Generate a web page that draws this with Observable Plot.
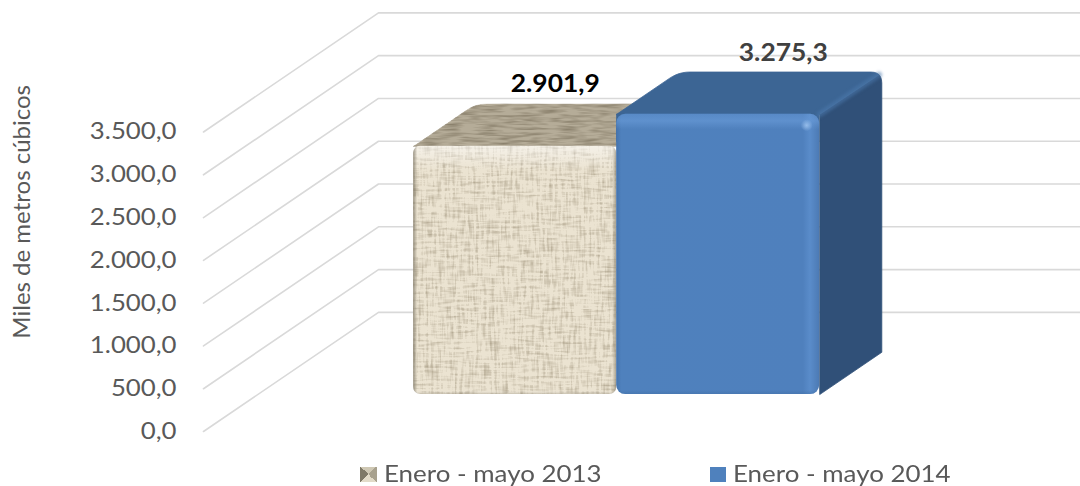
<!DOCTYPE html>
<html>
<head>
<meta charset="utf-8">
<script src="https://cdn.jsdelivr.net/npm/d3@7"></script>
<script src="https://cdn.jsdelivr.net/npm/@observablehq/plot@0.6"></script>
<style>
html,body{margin:0;padding:0;background:#fff;overflow:hidden}
#legend{position:relative;height:26px;font-family:Lato,sans-serif;font-size:23px;color:#595959;line-height:26px}
#legend span{position:absolute;top:0;white-space:nowrap;transform:scaleX(1.127);transform-origin:left center}
#legend i{position:absolute;display:block}
</style>
</head>
<body>
<div id="chart"></div>
<div id="legend"></div>
<script>
const seriesNames = ["Enero - mayo 2013", "Enero - mayo 2014"];
const seriesValues = [2901.9, 3275.3];
const yTicks = [0, 500, 1000, 1500, 2000, 2500, 3000, 3500];
const yTitle = "Miles de metros cúbicos";

const fmt = d3.formatLocale({decimal: ",", thousands: ".", grouping: [3]}).format(",.1f");

// oblique projection of the 3-D chart: depth d in 0..1
const depthX = 0.862, depthY = 1392, xEnd = 4.32;
const barStart = 0.768, dFront = 0.31, dBack = 0.665;
const sx = (u, d) => u + d * depthX;
const sy = (v, d) => v + d * depthY;
// size of one pixel in data units, used only to round the corners of faces
const pxX = 1 / 203, pxY = 1 / 0.0856;

const gridRows = yTicks.flatMap(t => [
  {t, x: 0, y: t},
  {t, x: depthX, y: sy(t, 1)},
  {t, x: xEnd, y: sy(t, 1)}
]);

const bars = seriesValues.map((v, i) => ({
  i, v, name: seriesNames[i],
  x1: sx(barStart + i, dFront), x2: sx(barStart + i + 1, dFront),
  y1: sy(0, dFront), y2: sy(v, dFront), y3: sy(v * 0.9, dFront)
}));

const arc = (a, p, b, n = 6) => d3.range(n + 1).map(k => {
  const t = k / n, s = 1 - t;
  return {x: s * s * a.x + 2 * s * t * p.x + t * t * b.x, y: s * s * a.y + 2 * s * t * p.y + t * t * b.y};
});
const corners = b => {
  const l = barStart + b.i, r = l + 1;
  const p = (u, d, v = b.v) => ({x: sx(u, d), y: sy(v, d)});
  const r0 = 11;
  const FL = p(l, dFront), BL = p(l, dBack), BR = p(r, dBack), FR = p(r, dFront);
  const slant = r0 / 73; // fraction of the slanted edge
  const blA = {x: FL.x + (BL.x - FL.x) * (1 - slant), y: FL.y + (BL.y - FL.y) * (1 - slant)};
  const blB = {x: BL.x + r0 * pxX, y: BL.y};
  const brA = {x: BR.x - r0 * pxX, y: BR.y};
  const brB = {x: BR.x, y: BR.y - r0 * pxY};
  const leftArc = arc(blA, BL, blB);
  const rightArc = arc(brA, BR, brB);
  return {FL, FR, leftArc, rightArc, botF: p(r, dFront, 0), botB: p(r, dBack, 0)};
};
const topFace = b => {
  const c = corners(b);
  return [c.FL, ...c.leftArc, ...c.rightArc.slice(0, 4), c.FR, c.FL];
};
const sideFace = b => {
  const c = corners(b);
  return [c.FR, ...c.rightArc.slice(3), c.botB, c.botF, c.FR];
};
const ridge = b => {
  const c = corners(b);
  return [c.FR, c.rightArc[3]];
};

const face = (pts, color, extra = {}) => Plot.line(pts, {
  x: "x", y: "y", fill: color, stroke: color, strokeWidth: 0.8, ...extra
});

const beige = bars[0], blue = bars[1];
const rectOpts = {x1: "x1", x2: "x2", y1: "y1", y2: "y2"};

const plot = Plot.plot({
  width: 1080, height: 460,
  marginLeft: 203, marginRight: 0, marginTop: 131.5, marginBottom: 29,
  x: {domain: [0, xEnd], axis: null},
  y: {domain: [0, 3500]},
  style: {background: "#fff", fontFamily: "Lato, sans-serif"},
  marks: [
    Plot.line(gridRows, {x: "x", y: "y", z: "t", stroke: "#d9d9d9", strokeWidth: 1.6}),
    Plot.axisY({ticks: yTicks, tickFormat: fmt, tickSize: 0, tickPadding: 27, fontSize: 23, color: "#595959", label: null}),
    Plot.text([yTitle], {x: 0, y: 2567, text: d => d, rotate: -90, dx: -181, fontSize: 24, fill: "#595959"}),

    face(topFace(beige), "#b5ac98", {imageFilter: "url(#grain)"}),
    Plot.rect([beige], {...rectOpts, fill: "#ebe3d1", rx: 7, imageFilter: "url(#weave)"}),
    Plot.rect([beige], {...rectOpts, fill: "url(#edgeBeige)", rx: 7}),
    Plot.rect([beige], {...rectOpts, fill: "url(#edgeBeigeH)", rx: 7}),

    face(sideFace(blue), "#305078"),
    face(topFace(blue), "#3c6594"),
    Plot.rect([blue], {x1: "x1", x2: "x2", y1: "y3", y2: "y2", fill: "#3c6594"}),
    Plot.line(ridge(blue), {x: "x", y: "y", stroke: "#4a78ab", strokeWidth: 6, strokeOpacity: 0.55, imageFilter: "blur(1.5px)"}),
    Plot.rect([blue], {...rectOpts, fill: "url(#blueH)", rx: 9}),
    Plot.rect([blue], {...rectOpts, fill: "url(#blueV)", rx: 9}),
    Plot.dot([blue], {x: "x2", y: "y2", r: 6, dx: -13, dy: 11, fill: "url(#glint)"}),

    Plot.text([beige], {x: d => sx(barStart + 0.5, dBack), y: "v", text: d => fmt(d.v), dx: -22, dy: -99, fontSize: 24, fontWeight: 700, fill: "#000"}),
    Plot.text([blue], {x: d => sx(barStart + 1.5, dBack), y: "v", text: d => fmt(d.v), dx: 3, dy: -98, fontSize: 24, fontWeight: 700, fill: "#404040"})
  ]
});

const defs = d3.create("svg:defs").html(`
  <filter id="weave" x="0" y="0" width="100%" height="100%" color-interpolation-filters="sRGB">
    <feTurbulence type="fractalNoise" baseFrequency="0.38 0.05" numOctaves="2" seed="3" result="v"/>
    <feTurbulence type="fractalNoise" baseFrequency="0.05 0.38" numOctaves="2" seed="8" result="h"/>
    <feComposite in="v" in2="h" operator="arithmetic" k1="0" k2="0.5" k3="0.5" k4="0" result="n"/>
    <feColorMatrix in="n" type="matrix" values="0 0 0 0 0.55  0 0 0 0 0.50  0 0 0 0 0.40  1.6 0 0 0 -0.72" result="shade"/>
    <feMerge result="m"><feMergeNode in="SourceGraphic"/><feMergeNode in="shade"/></feMerge>
    <feGaussianBlur in="m" stdDeviation="0.6" result="b"/>
    <feComposite in="b" in2="SourceAlpha" operator="in"/>
  </filter>
  <filter id="grain" x="0" y="0" width="100%" height="100%" color-interpolation-filters="sRGB">
    <feTurbulence type="fractalNoise" baseFrequency="0.05 0.4" numOctaves="2" seed="5" result="h"/>
    <feColorMatrix in="h" type="matrix" values="0 0 0 0 0.42  0 0 0 0 0.38  0 0 0 0 0.30  1.2 0 0 0 -0.45" result="shade"/>
    <feMerge result="m"><feMergeNode in="SourceGraphic"/><feMergeNode in="shade"/></feMerge>
    <feGaussianBlur in="m" stdDeviation="0.5" result="b"/>
    <feComposite in="b" in2="SourceAlpha" operator="in"/>
  </filter>
  <linearGradient id="edgeBeige" x1="0" y1="0" x2="0" y2="1">
    <stop offset="0" stop-color="#fff" stop-opacity="0.5"/>
    <stop offset="0.05" stop-color="#fff" stop-opacity="0.25"/>
    <stop offset="0.1" stop-color="#fff" stop-opacity="0"/>
    <stop offset="0.985" stop-color="#fff" stop-opacity="0"/>
    <stop offset="1" stop-color="#8a8270" stop-opacity="0.4"/>
  </linearGradient>
  <linearGradient id="edgeBeigeH" x1="0" y1="0" x2="1" y2="0">
    <stop offset="0" stop-color="#7d7665" stop-opacity="0.75"/>
    <stop offset="0.02" stop-color="#7d7665" stop-opacity="0"/>
    <stop offset="0.98" stop-color="#7d7665" stop-opacity="0"/>
    <stop offset="1" stop-color="#7d7665" stop-opacity="0.6"/>
  </linearGradient>
  <linearGradient id="blueH" x1="0" y1="0" x2="1" y2="0">
    <stop offset="0" stop-color="#4473ad"/>
    <stop offset="0.025" stop-color="#4f81bd"/>
    <stop offset="0.92" stop-color="#4f80bd"/>
    <stop offset="0.955" stop-color="#5a8cca"/>
    <stop offset="1" stop-color="#4c7ab4"/>
  </linearGradient>
  <linearGradient id="blueV" x1="0" y1="0" x2="0" y2="1">
    <stop offset="0" stop-color="#6c9edb" stop-opacity="0.3"/>
    <stop offset="0.025" stop-color="#6c9edb" stop-opacity="0.55"/>
    <stop offset="0.055" stop-color="#6c9edb" stop-opacity="0"/>
    <stop offset="0.985" stop-color="#3a679c" stop-opacity="0"/>
    <stop offset="1" stop-color="#3a679c" stop-opacity="0.35"/>
  </linearGradient>
  <radialGradient id="glint">
    <stop offset="0" stop-color="#9cc2ee" stop-opacity="0.9"/>
    <stop offset="1" stop-color="#9cc2ee" stop-opacity="0"/>
  </radialGradient>`);
plot.insertBefore(defs.node(), plot.firstChild);
document.getElementById("chart").appendChild(plot);

// Reference type is stretched horizontally
const stretch = t => t.closest("[font-weight]") || t.getAttribute("font-weight") ? 1.1 : 1.12;
plot.querySelectorAll("text").forEach(t => {
  if (t.textContent === yTitle || t.querySelector("tspan")) return;
  t.setAttribute("textLength", t.getComputedTextLength() * stretch(t));
  t.setAttribute("lengthAdjust", "spacingAndGlyphs");
});

const legend = d3.select("#legend");
const swatches = [
  {left: 360, w: 17, bg: "conic-gradient(from 45deg,#a8a18e 0 25%,#e2dbc8 25% 50%,#7f7967 50% 75%,#cfc8b4 75% 100%)"},
  {left: 710, w: 16, bg: "#4f81bd"}
];
const labelLeft = [384, 733];
seriesNames.forEach((n, i) => {
  legend.append("i").style("left", swatches[i].left + "px").style("top", "7px")
    .style("width", swatches[i].w + "px").style("height", "15px").style("background", swatches[i].bg);
  legend.append("span").style("left", labelLeft[i] + "px").text(n);
});
</script>
</body>
</html>
